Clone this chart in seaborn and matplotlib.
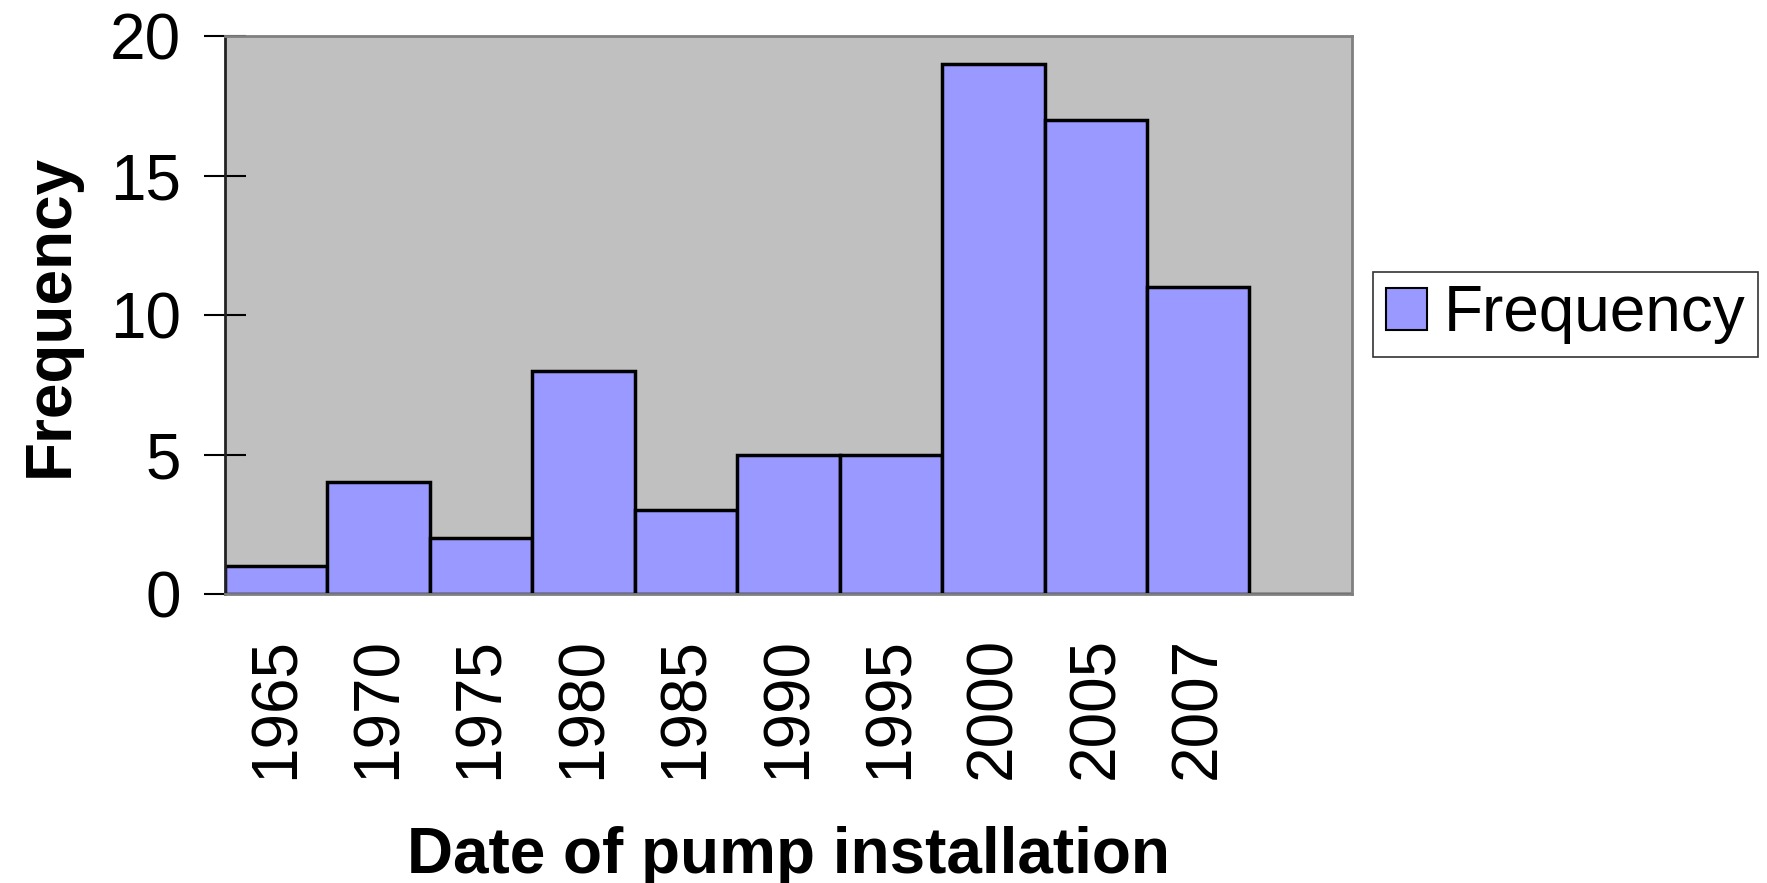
import matplotlib
matplotlib.use("Agg")
import matplotlib.pyplot as plt
import seaborn as sns

years = ['1965', '1970', '1975', '1980', '1985', '1990', '1995', '2000', '2005', '2007', '']
counts = [1, 4, 2, 8, 3, 5, 5, 19, 17, 11, 0]

sns.set_style("white")
plt.rcParams['font.family'] = ['Liberation Sans', 'DejaVu Sans']
plt.rcParams['text.color'] = 'black'
plt.rcParams['xtick.color'] = 'black'
plt.rcParams['ytick.color'] = 'black'
plt.rcParams['axes.labelcolor'] = 'black'

fig = plt.figure(figsize=(17.67, 8.83), dpi=100)
ax = fig.add_axes([0.1273, 0.3273, 0.6378, 0.6319])
ax.set_facecolor('#C0C0C0')

sns.barplot(x=years, y=counts, color='#9999FF', saturation=1, width=1,
            edgecolor='black', linewidth=2.5, label='Frequency', ax=ax)

ax.set_xlim(-0.5, 10.5)
ax.set_ylim(0, 20)
ax.set_yticks([0, 5, 10, 15, 20])
ax.set_axisbelow(True)

ax.tick_params(axis='y', direction='inout', length=30, width=1.5, color='black',
               labelsize=46, pad=16.5, left=True)
ax.tick_params(axis='x', length=0, labelsize=46, pad=31, labelrotation=90)

for s in ['top', 'right', 'bottom']:
    ax.spines[s].set_color('#808080')
    ax.spines[s].set_linewidth(2)
ax.spines['left'].set_color('#222222')
ax.spines['left'].set_linewidth(2)

ax.set_xlabel('Date of pump installation', fontsize=46, fontweight='bold')
ax.set_ylabel('Frequency', fontsize=46, fontweight='bold')
ax.xaxis.set_label_coords(0.5, -0.415)
ax.yaxis.set_label_coords(-0.128, 0.5)

leg = ax.legend(loc='center', bbox_to_anchor=(0.886, 0.644), bbox_transform=fig.transFigure,
                fontsize=46, frameon=True, fancybox=False, handlelength=0.64,
                handleheight=0.64, handletextpad=0.27, borderpad=0.2, borderaxespad=0)
leg.get_frame().set_edgecolor('black')
leg.get_frame().set_linewidth(1.2)
for h in leg.get_patches():
    h.set_linewidth(1.5)

fig.savefig('out.png', dpi=100)
